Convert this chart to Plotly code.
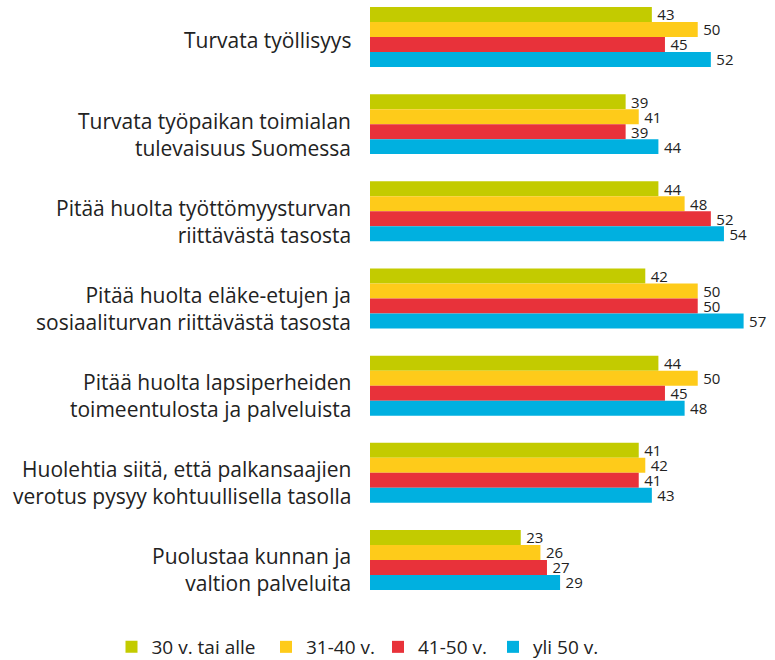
import plotly.graph_objects as go

categories = [
    "Turvata työllisyys",
    "Turvata työpaikan toimialan<br>tulevaisuus Suomessa",
    "Pitää huolta työttömyysturvan<br>riittävästä tasosta",
    "Pitää huolta eläke-etujen ja<br>sosiaaliturvan riittävästä tasosta",
    "Pitää huolta lapsiperheiden<br>toimeentulosta ja palveluista",
    "Huolehtia siitä, että palkansaajien<br>verotus pysyy kohtuullisella tasolla",
    "Puolustaa kunnan ja<br>valtion palveluita",
]
series_names = ["30 v. tai alle", "31-40 v.", "41-50 v.", "yli 50 v."]
v_30_alle = [43, 39, 44, 42, 44, 41, 23]
v_31_40 = [50, 41, 48, 50, 50, 42, 26]
v_41_50 = [45, 39, 52, 50, 45, 41, 27]
v_yli_50 = [52, 44, 54, 57, 48, 43, 29]
colors = ["#c3cb00", "#fecb1a", "#e8323a", "#00b0e0"]
legend_ids = ["legend", "legend2", "legend3", "legend4"]
legend_x_px = [111.5, 266, 378, 493]

FONT = "Open Sans, sans-serif"

fig = go.Figure()
for name, vals, col, lid in zip(series_names, [v_30_alle, v_31_40, v_41_50, v_yli_50], colors, legend_ids):
    fig.add_trace(go.Bar(
        y=categories, x=vals, name=name, orientation="h",
        marker=dict(color=col, line=dict(width=0)),
        text=[f"\u2009{v}" for v in vals], textposition="outside", cliponaxis=False,
        constraintext="none",
        textfont=dict(size=15, color="#222222", family=FONT),
        legend=lid,
    ))

# category labels as annotations (slightly lowered like the reference)
for cat in categories:
    nlines = cat.count("<br>") + 1
    fig.add_annotation(
        x=0, xref="paper", y=cat, yref="y", text=cat, showarrow=False,
        xanchor="right", yanchor="middle", align="right", xshift=-17,
        yshift=-3 if nlines == 1 else -10,
        font=dict(size=21, color="#222222", family=FONT),
    )

legend_common = dict(orientation="h", xref="container", yref="container", xanchor="left",
                     y=13 / 660, yanchor="middle", bgcolor="rgba(0,0,0,0)",
                     font=dict(size=19, color="#222222", family=FONT))
fig.update_layout(
    width=775, height=660,
    margin=dict(l=370, r=15, t=0, b=60),
    paper_bgcolor="white", plot_bgcolor="white",
    barmode="group", bargap=0.312, bargroupgap=0,
    font=dict(family=FONT, size=21, color="#222222"),
    showlegend=True,
    legend=dict(x=legend_x_px[0] / 775, **legend_common),
    legend2=dict(x=legend_x_px[1] / 775, **legend_common),
    legend3=dict(x=legend_x_px[2] / 775, **legend_common),
    legend4=dict(x=legend_x_px[3] / 775, **legend_common),
    xaxis=dict(range=[0, 59.5], visible=False, showgrid=False, zeroline=False, fixedrange=True,
               automargin=False),
    yaxis=dict(type="category", range=[6.459, -0.424], showgrid=False, zeroline=False,
               automargin=False, showticklabels=False, ticks="", showline=False,
               fixedrange=True),
)

fig.write_html("out.html", config={"displayModeBar": False},
               post_script="document.body.style.margin='0';document.body.style.padding='0';")
